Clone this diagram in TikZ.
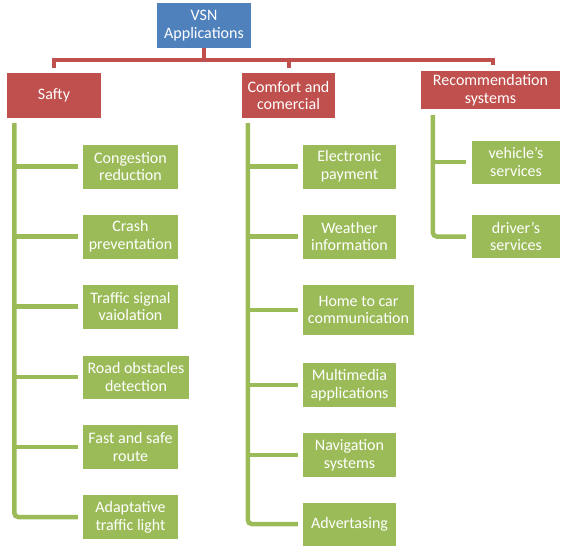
\documentclass[tikz,border=0pt]{standalone}
\usepackage{fontspec}
\setmainfont{Carlito}
\definecolor{vblue}{HTML}{4F81BD}
\definecolor{vred}{HTML}{C0504D}
\definecolor{vgreen}{HTML}{9BBB59}
\newcommand{\sq}{\char"0027\relax}
\begin{document}
\begin{tikzpicture}[x=1pt,y=-1pt,
  box/.style={draw=none, inner sep=0pt, align=center, text=white,
    font=\fontsize{16}{17.7}\selectfont},
  bbox/.style={box, fill=vblue},
  rbox/.style={box, fill=vred},
  gbox/.style={box, fill=vgreen},
  rline/.style={draw=vred, line width=4pt},
  gline/.style={draw=vgreen, line width=4.5pt}]
\useasboundingbox (0,0) rectangle (562,546);

% top level
\node[bbox, minimum width=94pt, minimum height=45pt] (vsn) at (204,25.5) {VSN\\Applications};
\node[rbox, minimum width=94pt, minimum height=45pt] (safty) at (54,95.5) {Safty};
\node[rbox, minimum width=93pt, minimum height=45pt] (comfort) at (288.5,95.5) {Comfort and\\comercial};
\node[rbox, minimum width=139pt, minimum height=38pt] (reco) at (490.5,90) {Recommendation\\systems};

% safety column
\node[gbox, minimum width=95pt, minimum height=44pt] (a1) at (130.5,166.5) {Congestion\\reduction};
\node[gbox, minimum width=95pt, minimum height=44pt] (a2) at (130.5,236.5) {Crash\\preventation};
\node[gbox, minimum width=95pt, minimum height=44pt] (a3) at (130.5,306.5) {Traffic signal\\vaiolation};
\node[gbox, minimum width=106pt, minimum height=43pt] (a4) at (136,377) {Road obstacles\\detection};
\node[gbox, minimum width=95pt, minimum height=44pt] (a5) at (130.5,447) {Fast and safe\\route};
\node[gbox, minimum width=95pt, minimum height=44pt] (a6) at (130.5,517) {Adaptative\\traffic light};

% comfort column
\node[gbox, minimum width=93pt, minimum height=44pt] (b1) at (349.5,166.5) {Electronic\\payment};
\node[gbox, minimum width=93pt, minimum height=44pt] (b2) at (349.5,236.5) {Weather\\information};
\node[gbox, minimum width=111pt, minimum height=50pt] (b3) at (358.5,310) {Home to car\\communication};
\node[gbox, minimum width=93pt, minimum height=44pt] (b4) at (349.5,385) {Multimedia\\applications};
\node[gbox, minimum width=93pt, minimum height=44pt] (b5) at (349.5,455) {Navigation\\systems};
\node[gbox, minimum width=93pt, minimum height=43pt] (b6) at (349.5,524) {Advertasing};

% recommendation column
\node[gbox, minimum width=88pt, minimum height=43pt] (c1) at (516,162) {vehicle\sq s\\services};
\node[gbox, minimum width=88pt, minimum height=43pt] (c2) at (516,236.5) {driver\sq s\\services};

% red bracket
\coordinate (hbar) at (204,60);
\draw[rline] (vsn.south) -- (hbar);
\draw[rline] ([yshift=5pt]safty.north) |- (hbar) -| ([xshift=2.5pt,yshift=6pt]reco.north);
\draw[rline] ([yshift=5pt]comfort.north) -- (comfort.north |- hbar);

% green trees
\coordinate (st) at ([xshift=7.5pt,yshift=-5pt]safty.south west);
\draw[gline, rounded corners=4pt] (st) |- ([xshift=-5pt]a6.west);
\foreach \n in {a1,a2,a3,a4,a5}
  \draw[gline] (st |- \n.west) -- ([xshift=-5pt]\n.west);

\coordinate (ct) at ([xshift=6pt,yshift=-5pt]comfort.south west);
\draw[gline, rounded corners=4pt] (ct) |- ([xshift=-5pt]b6.west);
\foreach \n in {b1,b2,b3,b4,b5}
  \draw[gline] (ct |- \n.west) -- ([xshift=-5pt]\n.west);

\coordinate (rt) at ([xshift=12pt,yshift=-6pt]reco.south west);
\draw[gline, rounded corners=4pt] (rt) |- ([xshift=-6pt]c2.west);
\draw[gline] (rt |- c1.west) -- ([xshift=-6pt]c1.west);
\end{tikzpicture}
\end{document}
